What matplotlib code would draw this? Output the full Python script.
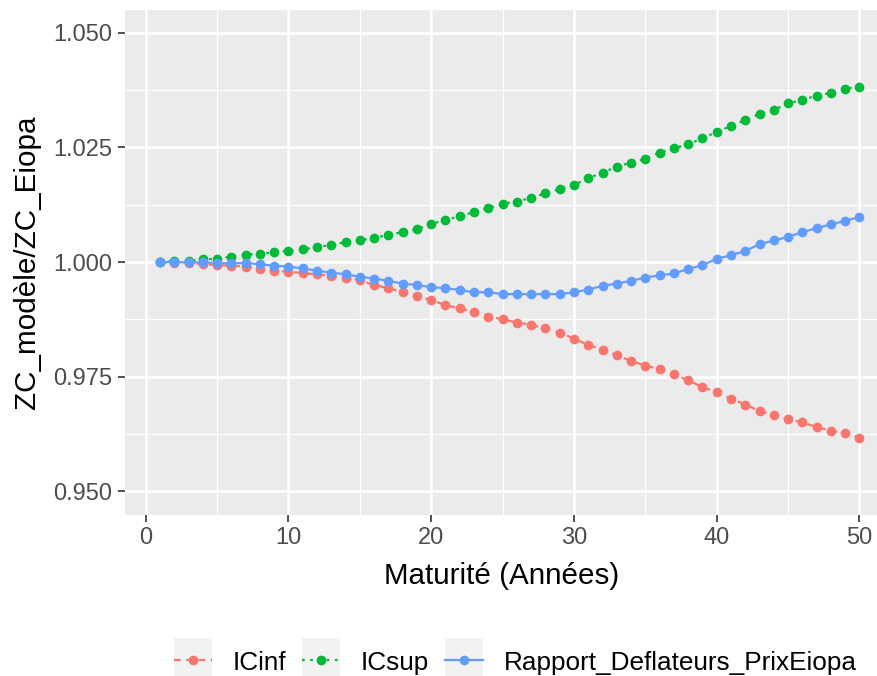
import numpy as np
import matplotlib
matplotlib.use("Agg")
import matplotlib.pyplot as plt
from matplotlib.legend_handler import HandlerLine2D
from matplotlib.patches import Rectangle

plt.rcParams['font.family'] = ['Liberation Sans', 'DejaVu Sans']

maturite = list(range(1, 51))

ic_inf = [1.0000, 0.9998, 0.9997, 0.9996, 0.9993, 0.9992, 0.9990, 0.9985, 0.9981, 0.9979,
          0.9976, 0.9973, 0.9970, 0.9966, 0.9960, 0.9950, 0.9943, 0.9934, 0.9926, 0.9917,
          0.9906, 0.9899, 0.9890, 0.9881, 0.9875, 0.9868, 0.9863, 0.9855, 0.9846, 0.9833,
          0.9819, 0.9809, 0.9797, 0.9784, 0.9774, 0.9766, 0.9755, 0.9742, 0.9727, 0.9716,
          0.9702, 0.9689, 0.9675, 0.9666, 0.9657, 0.9650, 0.9640, 0.9632, 0.9626, 0.9617]

ic_sup = [1.0000, 1.0002, 1.0002, 1.0006, 1.0007, 1.0012, 1.0016, 1.0018, 1.0021, 1.0025,
          1.0028, 1.0032, 1.0038, 1.0043, 1.0048, 1.0052, 1.0060, 1.0065, 1.0072, 1.0083,
          1.0092, 1.0100, 1.0109, 1.0118, 1.0127, 1.0132, 1.0140, 1.0150, 1.0159, 1.0168,
          1.0183, 1.0195, 1.0208, 1.0217, 1.0225, 1.0239, 1.0248, 1.0257, 1.0270, 1.0284,
          1.0297, 1.0310, 1.0323, 1.0332, 1.0346, 1.0354, 1.0363, 1.0369, 1.0378, 1.0383]

rapport = [1.0000, 1.0000, 0.9999, 0.9999, 0.9998, 0.9997, 0.9998, 0.9995, 0.9992, 0.9990,
           0.9986, 0.9981, 0.9977, 0.9973, 0.9968, 0.9964, 0.9959, 0.9953, 0.9950, 0.9945,
           0.9943, 0.9939, 0.9934, 0.9934, 0.9930, 0.9930, 0.9930, 0.9930, 0.9930, 0.9934,
           0.9940, 0.9948, 0.9953, 0.9959, 0.9966, 0.9971, 0.9975, 0.9985, 0.9993, 1.0007,
           1.0015, 1.0024, 1.0039, 1.0047, 1.0055, 1.0065, 1.0074, 1.0082, 1.0090, 1.0098]

noms = ["ICinf", "ICsup", "Rapport_Deflateurs_PrixEiopa"]
couleurs = ["#F8766D", "#00BA38", "#619CFF"]
styles = [(0, (3, 2.5)), (0, (1.2, 2.5)), "-"]


class KeyHandler(HandlerLine2D):
    # ggplot style grey key background
    def create_artists(self, legend, orig_handle, xdescent, ydescent, width, height, fontsize, trans):
        arts = super().create_artists(legend, orig_handle, xdescent, ydescent, width, height, fontsize, trans)
        pad = 0.45 * fontsize
        r = Rectangle((-xdescent, -ydescent - pad), width, height + 2 * pad,
                      facecolor="#F2F2F2", edgecolor="none", transform=trans)
        return [r] + arts


fig = plt.figure(figsize=(8.78, 6.76), dpi=100)
ax = fig.add_axes([0.1424, 0.2382, 0.8576, 0.747])
ax.set_facecolor("#EBEBEB")

lignes = []
for y, nom, c, ls in zip([ic_inf, ic_sup, rapport], noms, couleurs, styles):
    l, = ax.plot(maturite, y, color=c, linestyle=ls, linewidth=1.6,
                 marker="o", markersize=6, label=nom, zorder=3)
    lignes.append(l)

ax.set_xlim(-1.45, 51.3)
ax.set_ylim(0.9448, 1.055)
ax.set_xticks([0, 10, 20, 30, 40, 50])
ax.set_xticks([5, 15, 25, 35, 45], minor=True)
ax.set_yticks([0.95, 0.975, 1.0, 1.025, 1.05])
ax.set_yticklabels(["0.950", "0.975", "1.000", "1.025", "1.050"])
ax.set_yticks([0.9625, 0.9875, 1.0125, 1.0375], minor=True)
ax.grid(which="major", color="white", linewidth=1.8)
ax.grid(which="minor", color="white", linewidth=0.9)
ax.set_axisbelow(True)
for s in ax.spines.values():
    s.set_visible(False)
ax.tick_params(which="major", length=5, width=1.2, color="#333333",
               labelsize=17, labelcolor="#4D4D4D", pad=4)
ax.tick_params(which="minor", length=0)

ax.set_xlabel("Maturité (Années)", fontsize=21.3, labelpad=9)
ax.set_ylabel("ZC_modèle/ZC_Eiopa", fontsize=21.3, labelpad=9)

fig.legend(handles=lignes, labels=noms, loc="center", bbox_to_anchor=(0.587, 0.02),
           ncol=3, frameon=False, fontsize=18.8, handlelength=1.45, handleheight=1.0,
           handletextpad=0.8, columnspacing=0.6, numpoints=1,
           handler_map={l: KeyHandler() for l in lignes})

fig.savefig("out.png", dpi=100)
